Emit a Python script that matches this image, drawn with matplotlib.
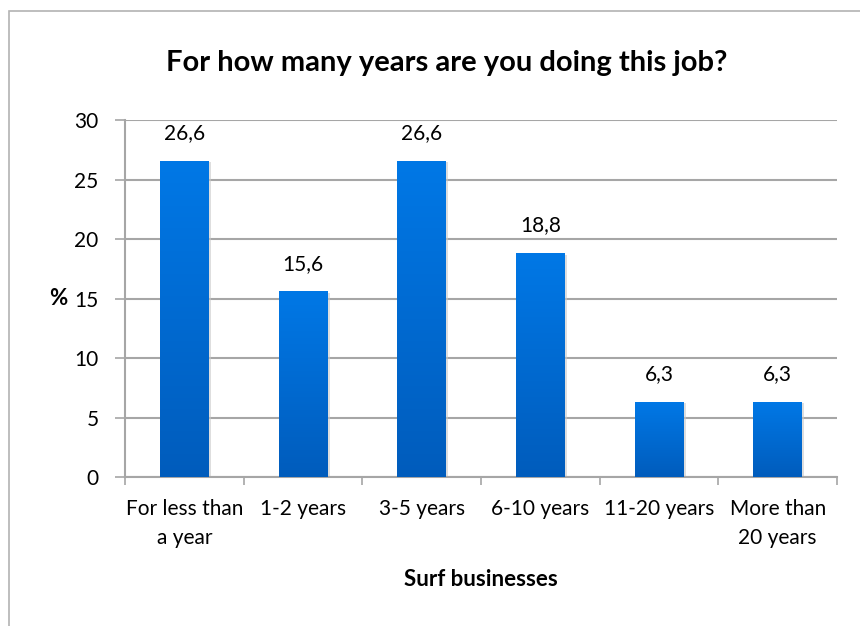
import numpy as np
import matplotlib.pyplot as plt
from matplotlib.patches import Rectangle
from matplotlib.colors import LinearSegmentedColormap

categories = ["For less than\na year", "1-2 years", "3-5 years",
              "6-10 years", "11-20 years", "More than\n20 years"]
percent = [26.6, 15.6, 26.6, 18.8, 6.3, 6.3]
labels = ["26,6", "15,6", "26,6", "18,8", "6,3", "6,3"]

plt.rcParams['font.family'] = ['Lato', 'DejaVu Sans']

fig = plt.figure(figsize=(8.6, 6.26), dpi=100)
ax = fig.add_axes([0.1453, 0.238, 0.828, 0.570])

# outer frame, partly running off the right/bottom edge
fig.patches.append(Rectangle((9 / 860, -0.1), 1.2, 0.1 + (1 - 11 / 626),
                             transform=fig.transFigure, fill=False,
                             edgecolor='#b3b3b3', linewidth=1.2))

x = np.arange(len(categories))
width = 0.41
grad = LinearSegmentedColormap.from_list('blue', ['#005cbc', '#0078e6'])

bars = ax.bar(x, percent, width=width, color='none', zorder=3)
for bar in bars:
    x0, y0 = bar.get_x(), bar.get_y()
    w, h = bar.get_width(), bar.get_height()
    # soft shadow
    ax.add_patch(Rectangle((x0 + 0.01, y0), w + 0.01, h - 0.1,
                           facecolor='#c8c8c8', edgecolor='none',
                           alpha=0.6, zorder=2))
    img = ax.imshow(np.linspace(0, 1, 256).reshape(-1, 1), cmap=grad,
                    aspect='auto', origin='lower',
                    extent=[x0, x0 + w, y0, y0 + h], zorder=3)
    img.set_clip_path(bar)

for xi, v, lab in zip(x, percent, labels):
    ax.text(xi, v + 1.5, lab, ha='center', va='bottom', fontsize=15)

ax.set_xlim(-0.5, len(categories) - 0.5)
ax.set_ylim(0, 30)
ax.set_yticks(range(0, 31, 5))
ax.yaxis.grid(True, color='#a6a6a6', linewidth=1.5, zorder=0)
ax.set_axisbelow(True)

ax.set_xticks(x)
ax.set_xticklabels(categories, fontsize=15, linespacing=1.55)
ax.set_xticks(np.arange(-0.5, len(categories), 1), minor=True)
ax.tick_params(axis='x', which='major', length=0, pad=16)
ax.tick_params(axis='x', which='minor', length=6, color='#a6a6a6', width=1.2)
ax.tick_params(axis='y', length=7, color='#a6a6a6', width=1.2, pad=12,
               labelsize=15)

for side in ['top', 'right']:
    ax.spines[side].set_visible(False)
for side in ['left', 'bottom']:
    ax.spines[side].set_color('#a6a6a6')
    ax.spines[side].set_linewidth(1.5)

ax.set_xlabel("Surf businesses", fontsize=16, fontweight='bold', labelpad=15)
ax.set_ylabel("%", fontsize=16, fontweight='bold', rotation=0,
              ha='center', va='center')
ax.yaxis.set_label_coords(-0.094, 0.5)
fig.text(0.519, 0.899, "For how many years are you doing this job?",
         ha='center', va='center', fontsize=21, fontweight='bold')

fig.savefig("out.png", dpi=100)
